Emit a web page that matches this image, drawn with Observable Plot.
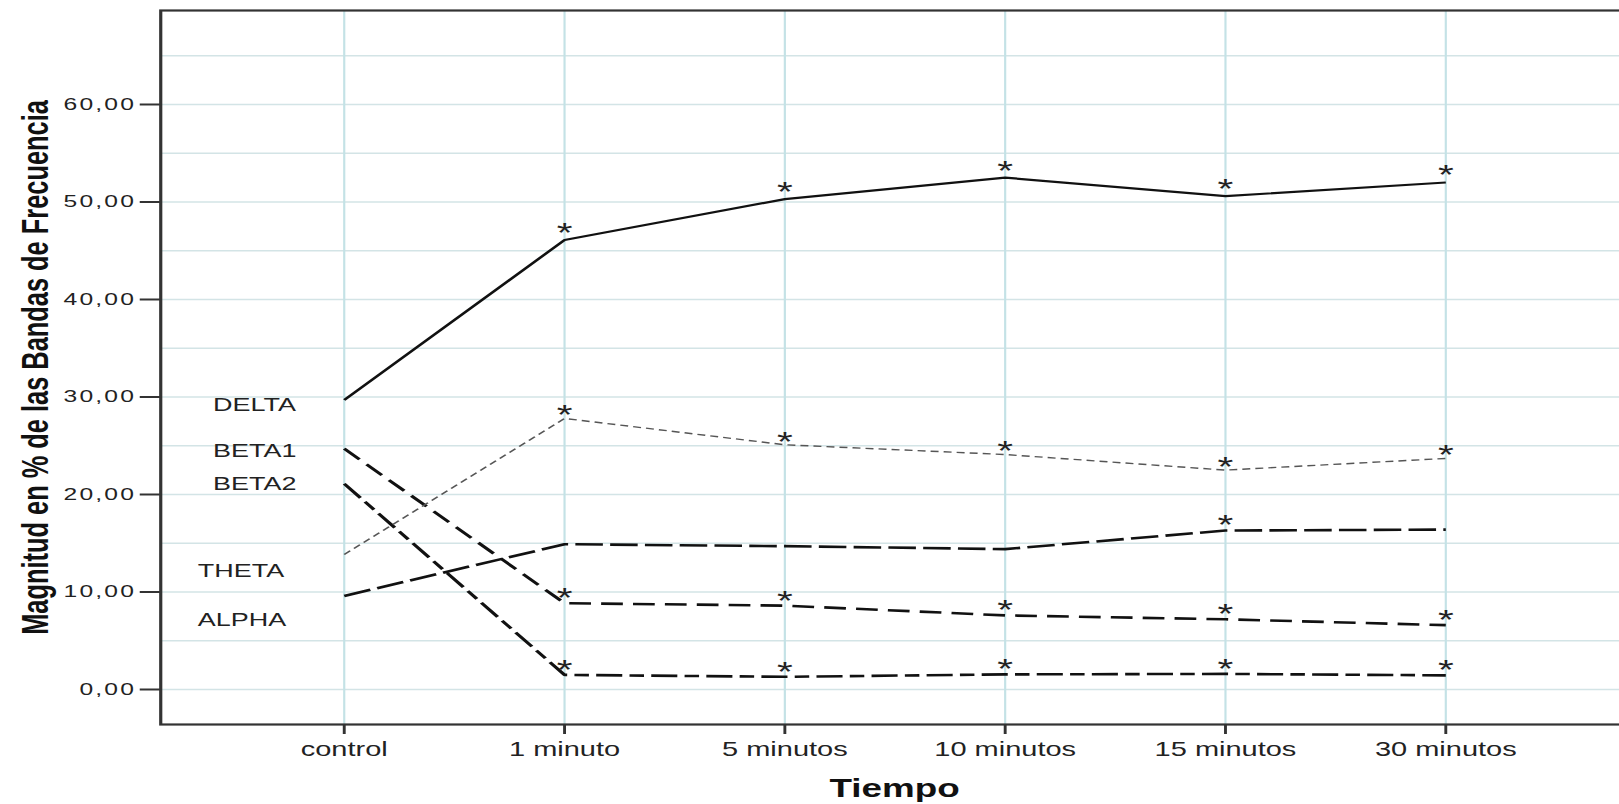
<!DOCTYPE html>
<html>
<head>
<meta charset="utf-8">
<script src="https://cdn.jsdelivr.net/npm/d3@7"></script>
<script src="https://cdn.jsdelivr.net/npm/@observablehq/plot@0.6"></script>
<style>
  html, body { margin: 0; padding: 0; background: #fff; overflow: hidden; }
  #chart svg g[aria-label="y-axis tick label"] text { letter-spacing: 1.5px; }
  #chart svg g[aria-label="x-title"] text { letter-spacing: 2.5px; }
</style>
</head>
<body>
<div id="chart"></div>
<script>
// ---- data ----
const categories = ["control", "1 minuto", "5 minutos", "10 minutos", "15 minutos", "30 minutos"];

const delta = [29.7, 46.1, 50.3, 52.5, 50.6, 52.0];
const beta1 = [24.7, 8.85, 8.6, 7.6, 7.2, 6.6];
const beta2 = [21.1, 1.5, 1.3, 1.55, 1.6, 1.45];
const theta = [13.85, 27.8, 25.1, 24.1, 22.5, 23.7];
const alpha = [9.6, 14.9, 14.7, 14.4, 16.3, 16.4];

// significance asterisks (1 = marked)
const deltaStars = [0, 1, 1, 1, 1, 1];
const beta1Stars = [0, 1, 1, 1, 1, 1];
const beta2Stars = [0, 1, 1, 1, 1, 1];
const thetaStars = [0, 1, 1, 1, 1, 1];
const alphaStars = [0, 0, 0, 0, 1, 0];

// in-plot band labels and the value level they sit at
const bandLabels = ["DELTA", "BETA1", "BETA2", "THETA", "ALPHA"];
const bandLabelLevels = [29.2, 24.5, 21.1, 12.1, 7.1];

const yTicks = [0, 10, 20, 30, 40, 50, 60];
const yGrid = [0, 5, 10, 15, 20, 25, 30, 35, 40, 45, 50, 55, 60, 65];

const yTitle = "Magnitud en % de las Bandas de Frecuencia";
const xTitle = "Tiempo";

// ---- build ----
const rows = (vals, stars) => categories.map((c, i) => ({time: c, value: vals[i], star: stars[i]}));

const seriesDefs = [
  {rows: rows(delta, deltaStars), stroke: "#111", width: 2.2, dash: null, starDy: -7},
  {rows: rows(beta1, beta1Stars), stroke: "#111", width: 2.6, dash: "15,7", starDy: -5},
  {rows: rows(beta2, beta2Stars), stroke: "#111", width: 2.6, dash: "18,5,10,5", starDy: -5},
  {rows: rows(theta, thetaStars), stroke: "#555", width: 1.4, dash: "5.5,3.5", starDy: -3},
  {rows: rows(alpha, alphaStars), stroke: "#111", width: 2.6, dash: "19,5", starDy: -6}
];

const labelRows = bandLabels.map((t, i) => ({text: t, level: bandLabelLevels[i], time: categories[0]}));

const fmt = d => d.toFixed(2).replace(".", ",");

const W = 1117, H = 804, OUTW = 1619;

const marks = [
  Plot.gridY(yGrid, {stroke: "#d3e4e6", strokeOpacity: 1, strokeWidth: 1.6}),
  Plot.gridX(categories, {stroke: "#c4e2e6", strokeOpacity: 1, strokeWidth: 1.5}),
  Plot.frame({stroke: "#333", strokeWidth: 2.2}),
  ...seriesDefs.map(s => Plot.line(s.rows, {
    x: "time", y: "value", stroke: s.stroke, strokeWidth: s.width,
    strokeDasharray: s.dash, strokeLinejoin: "miter", strokeLinecap: "butt"
  })),
  ...seriesDefs.map(s => Plot.text(s.rows, {
    filter: d => d.star === 1, x: "time", y: "value", text: () => "*",
    fontSize: 28, dy: s.starDy, fill: "#222"
  })),
  Plot.text(labelRows.slice(0, 3), {x: "time", y: "level", text: "text", textAnchor: "start", dx: -90.5, fontSize: 18.6, fill: "#222"}),
  Plot.text(labelRows.slice(3), {x: "time", y: "level", text: "text", textAnchor: "start", dx: -101, fontSize: 18.6, fill: "#222"}),
  Plot.axisY(yTicks, {tickFormat: fmt, tickSize: 14, tickPadding: 3, fontSize: 17, label: null, strokeWidth: 2, stroke: "#333"}),
  Plot.axisX(categories, {tickSize: 10, tickPadding: 7, fontSize: 20, label: null, strokeWidth: 2, stroke: "#333"}),
  Plot.text([yTitle], {text: d => d, frameAnchor: "left", rotate: -90, dx: -85.7, fontSize: 25.4, fontWeight: "bold", textAnchor: "middle", fill: "#111"}),
  Plot.text([xTitle], {text: d => d, frameAnchor: "bottom", dy: 72, fontSize: 25.4, fontWeight: "bold", textAnchor: "middle", fill: "#111", ariaLabel: "x-title"})
];

const chart = Plot.plot({
  width: W,
  height: H,
  marginLeft: 110.4,
  marginRight: -6,
  marginTop: 10,
  marginBottom: 80,
  x: {type: "point", domain: categories, padding: 0.8244},
  y: {domain: [-3.59, 69.64]},
  style: {fontFamily: "'Liberation Sans', Arial, sans-serif", background: "white", color: "#222"},
  marks
});

// the reference picture is horizontally stretched; reproduce by stretching the SVG
chart.setAttribute("width", OUTW);
chart.setAttribute("height", H);
chart.setAttribute("preserveAspectRatio", "none");
chart.style.width = OUTW + "px";
chart.style.height = H + "px";
chart.style.maxWidth = "none";
document.getElementById("chart").appendChild(chart);
</script>
</body>
</html>
